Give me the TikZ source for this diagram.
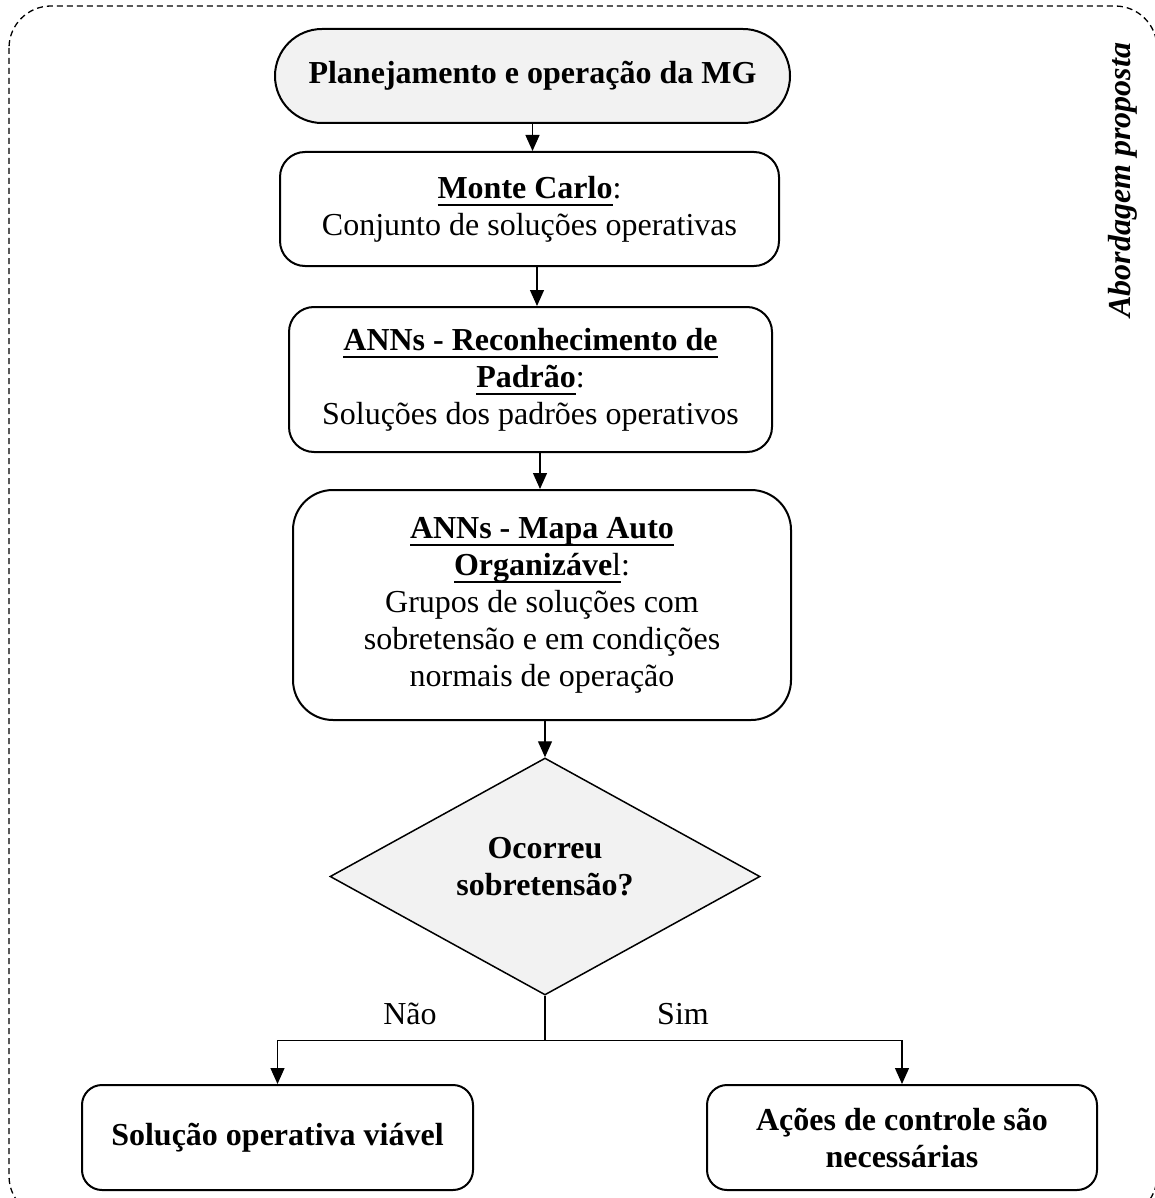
\documentclass[tikz,border=0pt]{standalone}
\usepackage{fontspec}
\setmainfont{Liberation Serif}
\usetikzlibrary{arrows.meta,shapes.geometric}
\definecolor{boxgray}{HTML}{F2F2F2}
% underline with a fixed offset below the baseline
\newcommand\ulin[1]{\setbox0\hbox{#1}\rlap{\rule[-8pt]{\wd0}{2.6pt}}\box0}
\begin{document}
\begin{tikzpicture}[x=1pt,y=-1pt,
  txt/.style={font=\fontsize{32pt}{37pt}\selectfont, align=center},
  boldtxt/.style={font=\fontsize{32pt}{37pt}\selectfont\bfseries, align=center},
  stepbox/.style={draw, line width=2pt, inner sep=0pt, align=center},
  arr/.style={line width=1.3pt, -{Triangle[length=16pt,width=14pt]}},
  link/.style={line width=1.3pt}]
\useasboundingbox (0,0) rectangle (1154,1198);

% dashed frame around the proposed approach
\draw[line width=1.3pt, dash pattern=on 6pt off 4pt, rounded corners=42pt]
  (9,6) rectangle (1157,1218);

% flow steps
\node[stepbox, boldtxt, fill=boxgray, rounded corners=47pt,
      minimum width=515pt, minimum height=94pt] (top) at (532.5,76)
  {Planejamento e operação da MG};

\node[stepbox, txt, rounded corners=25pt,
      minimum width=499pt, minimum height=114pt] (mc) at (529.5,209)
  {\ulin{\textbf{Monte Carlo}}:\\Conjunto de soluções operativas};

\node[stepbox, txt, rounded corners=25pt,
      minimum width=483pt, minimum height=145pt] (rp) at (530.5,379.5)
  {\ulin{\textbf{ANNs - Reconhecimento de}}\\\ulin{\textbf{Padrão}}:\\Soluções dos padrões operativos};

\node[stepbox, txt, rounded corners=40pt,
      minimum width=498pt, minimum height=230pt] (som) at (542,605)
  {\ulin{\textbf{ANNs - Mapa Auto}}\\\ulin{\textbf{Organizáve}l}:\\Grupos de soluções com\\sobretensão e em condições\\normais de operação};

% decision
\node[diamond, draw, fill=boxgray, line width=1.5pt, inner sep=0pt,
      minimum width=430pt, minimum height=237pt] (dec) at (545,876.5) {};
\node[boldtxt] (dectxt) at (545,867) {Ocorreu\\sobretensão?};

% outcomes
\node[stepbox, boldtxt, rounded corners=20pt,
      minimum width=391pt, minimum height=105pt] (no) at (277.5,1137.5)
  {Solução operativa viável};
\node[stepbox, boldtxt, rounded corners=20pt,
      minimum width=390pt, minimum height=105pt] (yes) at (902,1137.5)
  {Ações de controle são\\necessárias};

\node[txt] (lno) at (410,1014) {Não};
\node[txt] (lsim) at (683,1014) {Sim};

% side caption
\node[font=\fontsize{32pt}{37pt}\selectfont\bfseries\itshape, rotate=90] (tag) at (1123,180)
  {Abordagem proposta};

% connectors
\draw[arr] (top.south) -- (top.south |- mc.north);
\path ([xshift=7.5pt]mc.south) coordinate (m1);
\draw[arr] (m1) -- (m1 |- rp.north);
\path ([xshift=9.5pt]rp.south) coordinate (r1);
\draw[arr] (r1) -- (r1 |- som.north);
\draw[arr] (dec.north |- som.south) -- (dec.north);
\draw[link] (dec.south) -- ++(0,45) coordinate (split);
\draw[arr] (split) -| (no.north);
\draw[arr] (split) -| (yes.north);
\end{tikzpicture}
\end{document}
